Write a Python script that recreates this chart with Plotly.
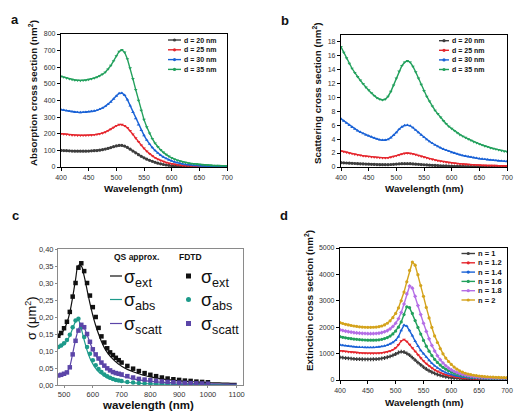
import plotly.graph_objects as go

W, H = 525, 413
FONT = "Arial, 'Liberation Sans', sans-serif"

# ---------------- Panel a: absorption cross section ----------------
wl_a = list(range(400, 705, 5))
abs_d20 = [100, 99, 98, 97, 96, 95, 95, 95, 95, 95,
           96, 97, 98, 99, 101, 104, 108, 112, 117, 122,
           127, 130, 130, 126, 118, 107, 96, 85, 74, 64,
           55, 47, 40, 34, 28, 23, 19, 15, 12, 10,
           8, 6.5, 5.5, 4.5, 4, 3.5, 3, 2.5, 2, 2,
           1.5, 1.5, 1.2, 1, 1, 0.9, 0.8, 0.7, 0.6, 0.6,
           0.5]
abs_d25 = [200, 198, 196, 194, 192, 191, 190, 190, 190, 190,
           191, 192, 194, 196, 199, 204, 210, 218, 227, 238,
           248, 255, 255, 248, 236, 218, 196, 174, 152, 131,
           112, 95, 80, 67, 56, 47, 39, 33, 27, 23,
           19, 16, 13, 11, 9, 8, 7, 6, 5, 4.5,
           4, 3.5, 3, 2.7, 2.4, 2.2, 2, 1.8, 1.6, 1.5,
           1.4]
abs_d30 = [345, 342, 338, 335, 332, 330, 329, 328, 329, 330,
           332, 334, 337, 341, 347, 355, 365, 377, 392, 410,
           428, 443, 445, 432, 405, 368, 330, 292, 255, 221,
           190, 162, 138, 117, 99, 84, 71, 60, 51, 43,
           37, 31, 26, 22, 19, 16, 14, 12, 10, 9,
           8, 7, 6, 5.5, 5, 4.5, 4, 3.7, 3.4, 3.1,
           2.8]
abs_d35 = [545, 540, 535, 530, 526, 523, 521, 520, 521, 523,
           526, 530, 535, 541, 548, 558, 570, 588, 610, 638,
           668, 695, 705, 690, 650, 595, 530, 465, 400, 340,
           285, 240, 202, 170, 143, 121, 103, 88, 75, 64,
           55, 47, 41, 36, 31, 27, 24, 21, 19, 17,
           15, 13.5, 12, 11, 10, 9, 8.5, 8, 7.5, 7,
           6.5]

# ---------------- Panel b: scattering cross section ----------------
wl_b = list(range(400, 705, 5))
sca_d20 = [0.62, 0.6, 0.57, 0.55, 0.52, 0.5, 0.48, 0.46, 0.44, 0.42,
           0.4, 0.38, 0.37, 0.35, 0.34, 0.33, 0.33, 0.34, 0.36, 0.39,
           0.42, 0.45, 0.47, 0.48, 0.48, 0.47, 0.44, 0.41, 0.38, 0.35,
           0.32, 0.29, 0.26, 0.24, 0.22, 0.2, 0.18, 0.16, 0.15, 0.13,
           0.12, 0.11, 0.1, 0.09, 0.08, 0.075, 0.07, 0.065, 0.06, 0.055,
           0.05, 0.048, 0.045, 0.043, 0.04, 0.038, 0.036, 0.034, 0.032, 0.03,
           0.03]
sca_d25 = [2.3, 2.2, 2.1, 2.0, 1.9, 1.82, 1.75, 1.68, 1.6, 1.55,
           1.5, 1.45, 1.4, 1.36, 1.33, 1.3, 1.3, 1.33, 1.4, 1.5,
           1.62, 1.75, 1.87, 1.95, 1.98, 1.95, 1.88, 1.77, 1.65, 1.53,
           1.41, 1.3, 1.19, 1.09, 1.0, 0.92, 0.84, 0.77, 0.7, 0.64,
           0.59, 0.54, 0.5, 0.46, 0.42, 0.39, 0.36, 0.33, 0.31, 0.29,
           0.27, 0.25, 0.23, 0.22, 0.21, 0.2, 0.19, 0.18, 0.17, 0.16,
           0.15]
sca_d30 = [6.9, 6.6, 6.3, 6.0, 5.7, 5.45, 5.2, 5.0, 4.8, 4.6,
           4.45, 4.3, 4.15, 4.0, 3.9, 3.85, 3.85, 3.95, 4.2, 4.55,
           4.95, 5.4, 5.75, 5.95, 6.0, 5.9, 5.65, 5.3, 4.95, 4.6,
           4.25, 3.95, 3.65, 3.4, 3.15, 2.95, 2.75, 2.55, 2.4, 2.25,
           2.1, 1.98, 1.86, 1.75, 1.65, 1.56, 1.48, 1.4, 1.33, 1.26,
           1.2, 1.15, 1.1, 1.05, 1.0, 0.96, 0.92, 0.88, 0.85, 0.82,
           0.8]
sca_d35 = [17.2, 16.4, 15.6, 14.8, 14.1, 13.5, 12.9, 12.4, 11.9, 11.4,
           11.0, 10.6, 10.2, 9.9, 9.7, 9.6, 9.7, 10.1, 10.8, 11.7,
           12.7, 13.7, 14.5, 15.0, 15.2, 15.0, 14.4, 13.6, 12.7, 11.8,
           10.9, 10.1, 9.4, 8.7, 8.1, 7.6, 7.1, 6.6, 6.2, 5.8,
           5.5, 5.2, 4.9, 4.6, 4.4, 4.2, 4.0, 3.8, 3.6, 3.45,
           3.3, 3.15, 3.0, 2.9, 2.75, 2.65, 2.55, 2.45, 2.35, 2.25,
           2.2]

# ---------------- Panel c: QS approx. vs FDTD ----------------
wl_qs = [480, 490, 500, 510, 520, 530, 540, 550, 560, 570, 580, 590, 600,
         610, 620, 630, 640, 650, 660, 670, 680, 690, 700,
         720, 740, 760, 780, 800, 820, 840, 860, 880, 900, 920, 940, 960,
         980, 1000, 1020, 1040, 1060, 1080, 1100]
qs_ext = [0.14, 0.15, 0.163, 0.183, 0.213, 0.258, 0.31, 0.352, 0.35, 0.32,
          0.28, 0.24, 0.205, 0.175, 0.15, 0.128, 0.11, 0.096, 0.085, 0.076,
          0.068, 0.061, 0.055, 0.046, 0.039, 0.033, 0.028, 0.024, 0.021,
          0.018, 0.016, 0.014, 0.012, 0.011, 0.01, 0.009, 0.008, 0.007,
          0.0065, 0.006, 0.0055, 0.005, 0.0045]
qs_abs = [0.108, 0.113, 0.12, 0.13, 0.145, 0.166, 0.186, 0.19, 0.165, 0.132,
          0.102, 0.079, 0.062, 0.049, 0.039, 0.032, 0.026, 0.021, 0.018,
          0.015, 0.013, 0.011, 0.01, 0.008, 0.006, 0.005, 0.004, 0.0035,
          0.003, 0.0027, 0.0024, 0.0022, 0.002, 0.0018, 0.0016, 0.0015,
          0.0014, 0.0013, 0.0012, 0.0011, 0.001, 0.001, 0.001]
qs_sca = [0.028, 0.03, 0.033, 0.038, 0.055, 0.092, 0.133, 0.163, 0.178, 0.168,
          0.148, 0.125, 0.104, 0.088, 0.075, 0.064, 0.055, 0.048, 0.042,
          0.037, 0.033, 0.03, 0.027, 0.022, 0.018, 0.015, 0.013, 0.011,
          0.0095, 0.0082, 0.0072, 0.0064, 0.0057, 0.0051, 0.0046, 0.0042,
          0.0038, 0.0035, 0.0032, 0.003, 0.0028, 0.0026, 0.0024]
wl_fdtd = [480, 490, 500, 510, 520, 530, 540, 550, 560, 570, 580, 590, 600,
           610, 620, 630, 640, 650, 660, 670, 680, 690, 700,
           720, 740, 760, 780, 800, 820, 840, 860, 880, 900, 920, 940, 960,
           980, 1000]
fdtd_ext = [0.145, 0.153, 0.167, 0.186, 0.215, 0.26, 0.30, 0.345, 0.358, 0.335,
            0.30, 0.263, 0.229, 0.2, 0.168, 0.143, 0.125, 0.108, 0.096, 0.088,
            0.08, 0.073, 0.066, 0.056, 0.048, 0.041, 0.035, 0.03, 0.026,
            0.022, 0.019, 0.017, 0.015, 0.013, 0.012, 0.01, 0.009, 0.008]
fdtd_abs = [0.112, 0.116, 0.123, 0.132, 0.148, 0.17, 0.19, 0.195, 0.17, 0.141,
            0.112, 0.092, 0.073, 0.058, 0.047, 0.038, 0.031, 0.026, 0.021,
            0.018, 0.015, 0.013, 0.012, 0.009, 0.007, 0.006, 0.005, 0.004,
            0.0035, 0.003, 0.0028, 0.0025, 0.0022, 0.002, 0.0018, 0.0016,
            0.0014, 0.0012]
fdtd_sca = [0.028, 0.03, 0.033, 0.037, 0.052, 0.09, 0.13, 0.16, 0.177, 0.17,
            0.15, 0.127, 0.105, 0.09, 0.078, 0.066, 0.057, 0.049, 0.043,
            0.038, 0.035, 0.033, 0.031, 0.026, 0.022, 0.018, 0.016, 0.014,
            0.012, 0.0105, 0.0092, 0.008, 0.007, 0.0062, 0.0055, 0.005,
            0.0045, 0.004]

# ---------------- Panel d: extinction vs refractive index ----------------
wl_d = list(range(400, 705, 5))
ext_n10 = [860, 845, 830, 818, 808, 800, 793, 788, 785, 783,
           782, 783, 786, 792, 801, 815, 835, 862, 895, 935,
           985, 1040, 1075, 1060, 1010, 940, 850, 755, 660, 570,
           490, 415, 350, 295, 248, 208, 174, 145, 121, 101,
           85, 71, 60, 51, 43, 37, 32, 28, 24, 21,
           19, 17, 15, 14, 13, 12, 11, 10, 9.5, 9,
           8.5]
ext_n12 = [1110, 1095, 1080, 1067, 1055, 1045, 1037, 1030, 1024, 1019,
           1015, 1012, 1011, 1013, 1018, 1028, 1043, 1065, 1097, 1145,
           1215, 1330, 1480, 1535, 1460, 1340, 1210, 1080, 950, 830,
           720, 620, 530, 452, 385, 327, 278, 236, 200, 170,
           145, 124, 106, 91, 79, 69, 61, 54, 48, 43,
           39, 36, 33, 30, 28, 26, 24, 23, 22, 21,
           20]
ext_n14 = [1330, 1312, 1295, 1280, 1268, 1258, 1250, 1243, 1238, 1234,
           1232, 1232, 1235, 1241, 1251, 1267, 1290, 1322, 1366, 1425,
           1505, 1640, 1880, 2075, 2040, 1880, 1680, 1470, 1280, 1120,
           1000, 870, 745, 635, 540, 458, 388, 330, 281, 240,
           206, 177, 153, 133, 116, 102, 90, 80, 72, 65,
           59, 54, 50, 46, 43, 40, 38, 36, 34, 32,
           31]
ext_n16 = [1640, 1618, 1598, 1580, 1565, 1552, 1540, 1530, 1522, 1515,
           1510, 1508, 1508, 1512, 1522, 1540, 1568, 1608, 1665, 1745,
           1855, 2000, 2200, 2480, 2770, 2740, 2520, 2250, 1990, 1740,
           1500, 1280, 1090, 925, 785, 665, 565, 480, 410, 350,
           300, 258, 222, 193, 168, 148, 131, 117, 105, 95,
           86, 79, 73, 68, 63, 59, 55, 52, 49, 47,
           45]
ext_n18 = [1900, 1875, 1850, 1830, 1812, 1797, 1785, 1775, 1766, 1760,
           1756, 1755, 1757, 1763, 1775, 1795, 1826, 1870, 1935, 2025,
           2150, 2320, 2560, 2880, 3260, 3560, 3480, 3170, 2820, 2480,
           2150, 1840, 1560, 1310, 1100, 920, 770, 645, 540, 455,
           385, 328, 281, 243, 211, 185, 163, 145, 130, 118,
           108, 100, 93, 87, 82, 77, 73, 70, 67, 64,
           62]
ext_n20 = [2170, 2140, 2110, 2085, 2065, 2045, 2030, 2015, 2005, 1998,
           1995, 1995, 1998, 2005, 2020, 2045, 2085, 2150, 2240, 2360,
           2520, 2730, 3000, 3330, 3720, 4150, 4470, 4350, 3990, 3580,
           3170, 2750, 2350, 1990, 1670, 1420, 1190, 990, 830, 700,
           590, 490, 410, 345, 295, 255, 225, 200, 180, 163,
           150, 138, 128, 120, 113, 107, 102, 98, 94, 90,
           87]

labels_ab = ["d = 20 nm", "d = 25 nm", "d = 30 nm", "d = 35 nm"]
colors_ab = ["#3d3d3d", "#e5262d", "#1a62d6", "#22a05c"]
symbols_ab = ["circle", "triangle-down", "triangle-up", "triangle-down"]

labels_d = ["n = 1", "n = 1.2", "n = 1.4", "n = 1.6", "n = 1.8", "n = 2"]
colors_d = ["#3d3d3d", "#e5262d", "#1a62d6", "#22a05c", "#b46ee6", "#d4a31c"]
symbols_d = ["cross", "triangle-down", "triangle-up", "circle", "diamond", "circle"]

C_BLACK, C_TEAL, C_PURPLE = "#111111", "#1d9a8a", "#5b45a8"

fig = go.Figure()


def add_series(x, y, color, symbol, xa, ya):
    fig.add_trace(go.Scatter(
        x=x, y=y, mode="lines+markers", xaxis=xa, yaxis=ya, showlegend=False,
        line=dict(color=color, width=1.4),
        marker=dict(symbol=symbol, size=3.2, color=color, line=dict(width=0)),
    ))


for ys, c, s in zip([abs_d20, abs_d25, abs_d30, abs_d35], colors_ab, symbols_ab):
    add_series(wl_a, ys, c, s, "x", "y")
for ys, c, s in zip([sca_d20, sca_d25, sca_d30, sca_d35], colors_ab, symbols_ab):
    add_series(wl_b, ys, c, s, "x2", "y2")
for ys, c, s in zip([ext_n10, ext_n12, ext_n14, ext_n16, ext_n18, ext_n20], colors_d, symbols_d):
    add_series(wl_d, ys, c, s, "x4", "y4")

# panel c
for ys, c in zip([qs_ext, qs_abs, qs_sca], [C_BLACK, C_TEAL, C_PURPLE]):
    fig.add_trace(go.Scatter(x=wl_qs, y=ys, mode="lines", xaxis="x3", yaxis="y3",
                             showlegend=False, line=dict(color=c, width=1.2, shape="spline")))
for ys, c, s in zip([fdtd_ext, fdtd_abs, fdtd_sca], [C_BLACK, C_TEAL, C_PURPLE],
                    ["square", "circle", "square"]):
    fig.add_trace(go.Scatter(x=wl_fdtd, y=ys, mode="markers", xaxis="x3", yaxis="y3",
                             showlegend=False, marker=dict(symbol=s, size=4.5, color=c,
                                                            line=dict(width=0))))


def xd(p0, p1):
    return [p0 / W, p1 / W]


def yd(top, bottom):
    return [1 - bottom / H, 1 - top / H]


frame = dict(showline=True, linecolor="black", linewidth=1.2, mirror=True,
             ticks="outside", ticklen=3, tickwidth=1, tickcolor="black",
             showgrid=False, zeroline=False,
             tickfont=dict(size=7, color="#333", family=FONT))
frame_c = dict(showline=True, linecolor="#8a8a8a", linewidth=1, mirror=True,
               ticks="outside", ticklen=2, tickwidth=1, tickcolor="#8a8a8a",
               showgrid=False, zeroline=False,
               tickfont=dict(size=7.5, color="#333", family=FONT))

fig.update_layout(
    width=W, height=H, margin=dict(l=0, r=0, t=0, b=0),
    paper_bgcolor="white", plot_bgcolor="white", template="none",
    separators=",.", font=dict(family=FONT, color="#111"),
    xaxis=dict(domain=xd(61, 227), anchor="y", range=[400, 700], dtick=50, **frame),
    yaxis=dict(domain=yd(34, 167), anchor="x", range=[0, 800], dtick=100, **frame),
    xaxis2=dict(domain=xd(341, 507), anchor="y2", range=[400, 700], dtick=50, **frame),
    yaxis2=dict(domain=yd(35, 167), anchor="x2", range=[0, 18.9], dtick=2, **frame),
    xaxis3=dict(domain=xd(58, 243), anchor="y3", range=[479, 1122], tick0=500, dtick=100,
                ticklabelstandoff=0, **frame_c),
    yaxis3=dict(domain=yd(249, 385), anchor="x3", range=[0, 0.40], dtick=0.05,
                tickformat=".2f", **frame_c),
    xaxis4=dict(domain=xd(340, 507), anchor="y4", range=[400, 700], dtick=50, **frame),
    yaxis4=dict(domain=yd(248, 380), anchor="x4", range=[0, 5000], dtick=1000, **frame),
)

annotations = []
shapes = []


def ann(x, y, text, size, bold=False, angle=0, xanchor="center", color="#111"):
    annotations.append(dict(
        x=x / W, y=1 - y / H, xref="paper", yref="paper", text=f"<b>{text}</b>" if bold else text,
        showarrow=False, textangle=angle, xanchor=xanchor, yanchor="middle",
        font=dict(size=size, family=FONT, color=color)))


# panel letters
ann(15, 20, "a", 13, True)
ann(285, 21, "b", 13, True)
ann(15, 215, "c", 13, True)
ann(284, 215, "d", 13, True)

# axis titles
ann(33, 93, "Absorption cross section (nm<sup>2</sup>)", 9.8, True, -90)
ann(143, 188, "Wavelength (nm)", 9.8, True)
ann(317, 93, "Scattering cross section (nm<sup>2</sup>)", 9.8, True, -90)
ann(424, 188, "Wavelength (nm)", 9.8, True)
ann(31, 318, "σ (μm<sup>2</sup>)", 13, False, -90)
ann(148, 405, "wavelength (nm)", 11.5, True)
ann(309, 301, "Extinction cross section (nm<sup>2</sup>)", 9.8, True, -90)
ann(424, 402, "Wavelength (nm)", 9.8, True)


def legend_item(x0, x1, yrow, color, text, tx, size=7):
    yy = 1 - yrow / H
    shapes.append(dict(type="line", xref="paper", yref="paper", x0=x0 / W, x1=x1 / W,
                       y0=yy, y1=yy, line=dict(color=color, width=1.4)))
    xm = (x0 + x1) / 2
    shapes.append(dict(type="circle", xref="paper", yref="paper",
                       x0=(xm - 1.6) / W, x1=(xm + 1.6) / W,
                       y0=yy - 1.6 / H, y1=yy + 1.6 / H,
                       fillcolor=color, line=dict(width=0)))
    ann(tx, yrow, text, size, True, 0, "left")


for i, (lab, c) in enumerate(zip(labels_ab, colors_ab)):
    legend_item(168, 181, 40 + i * 9.8, c, lab, 182)
    legend_item(439, 449, 40.7 + i * 9.6, c, lab, 450)
for i, (lab, c) in enumerate(zip(labels_d, colors_d)):
    legend_item(461.5, 475, 253.5 + i * 9.3, c, lab, 475.5, 7.5)

# panel c legend
ann(112, 257, "QS approx.", 8.5, True, 0, "left")
ann(177, 257, "FDTD", 8.5, True, 0, "left")
names_c = ["σ<sub>ext</sub>", "σ<sub>abs</sub>", "σ<sub>scatt</sub>"]
rows_c = [277, 300.5, 324.5]
for nm, c, yrow, sym in zip(names_c, [C_BLACK, C_TEAL, C_PURPLE], rows_c,
                            ["rect", "circle", "rect"]):
    yy = 1 - (yrow - 1) / H
    shapes.append(dict(type="line", xref="paper", yref="paper", x0=110 / W, x1=122 / W,
                       y0=yy, y1=yy, line=dict(color=c, width=1.2)))
    shapes.append(dict(type=sym, xref="paper", yref="paper",
                       x0=186 / W, x1=191 / W, y0=yy - 2.5 / H, y1=yy + 2.5 / H,
                       fillcolor=c, line=dict(width=0)))
    ann(122, yrow + 1, nm, 18, False, 0, "left", "#111")
    ann(199, yrow + 1, nm, 18, False, 0, "left", "#111")

fig.update_layout(annotations=annotations, shapes=shapes)
fig.write_html("out.html")
